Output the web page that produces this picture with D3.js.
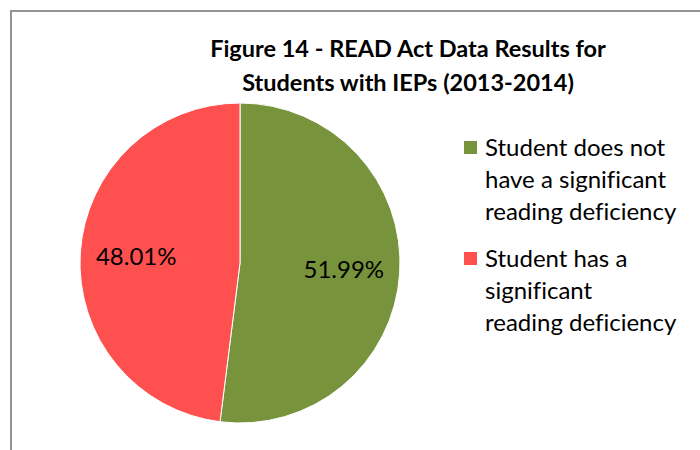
<!DOCTYPE html>
<html>
<head>
<meta charset="utf-8">
<script src="https://cdn.jsdelivr.net/npm/d3@7"></script>
<style>
  body { margin: 0; background: #fff; }
  text { font-family: Lato, "Open Sans", sans-serif; fill: #000; font-variant-ligatures: none; }
</style>
</head>
<body>
<svg id="chart" width="700" height="450"></svg>
<script>
const categories = ["Student does not have a significant reading deficiency",
                    "Student has a significant reading deficiency"];
const values     = [51.99, 48.01];
const colors     = ["#77933C", "#FF5050"];
const legendLines = [["Student does not", "have a significant", "reading deficiency"],
                     ["Student has a", "significant", "reading deficiency"]];
const titleLines = ["Figure 14 - READ Act Data Results for", "Students with IEPs (2013-2014)"];

const svg = d3.select("#chart"),
      cx = 240, cy = 263, r = 160;

// chart frame
svg.append("rect")
   .attr("x", 11).attr("y", 11)
   .attr("width", 720).attr("height", 480)
   .attr("fill", "none")
   .attr("stroke", "#939393")
   .attr("stroke-width", 2);

// title
svg.append("g").selectAll("text")
   .data(titleLines)
   .enter().append("text")
     .attr("x", 408)
     .attr("y", (d, i) => 57 + i * 34)
     .attr("text-anchor", "middle")
     .style("font-size", "23.5px")
     .style("font-weight", "bold")
     .text(d => d);

const pie = d3.pie().sort(null).value(d => d);
const arc = d3.arc().innerRadius(0).outerRadius(r);
const labelArc = d3.arc().innerRadius(r * 0.65).outerRadius(r * 0.65);

const g = svg.append("g").attr("transform", `translate(${cx},${cy})`);

const arcs = pie(values);

g.selectAll("path")
  .data(arcs)
  .enter().append("path")
    .attr("d", arc)
    .attr("fill", (d, i) => colors[i])
    .attr("stroke", "#fff")
    .attr("stroke-width", 1);

g.selectAll(".lbl")
  .data(arcs)
  .enter().append("text")
    .attr("class", "lbl")
    .attr("transform", d => `translate(${labelArc.centroid(d)})`)
    .attr("text-anchor", "middle")
    .attr("dy", "0.35em")
    .style("font-size", "24px")
    .text(d => d.data.toFixed(2) + "%");

// legend
const legend = svg.append("g").selectAll("g")
  .data(legendLines)
  .enter().append("g")
    .attr("transform", (d, i) => `translate(464, ${141 + i * 111})`);

legend.append("rect")
  .attr("width", 13).attr("height", 13)
  .attr("fill", (d, i) => colors[i]);

legend.selectAll("text")
  .data(d => d)
  .enter().append("text")
    .attr("x", 21)
    .attr("y", (d, i) => 15 + i * 32)
    .style("font-size", "24px")
    .text(d => d);
</script>
</body>
</html>
